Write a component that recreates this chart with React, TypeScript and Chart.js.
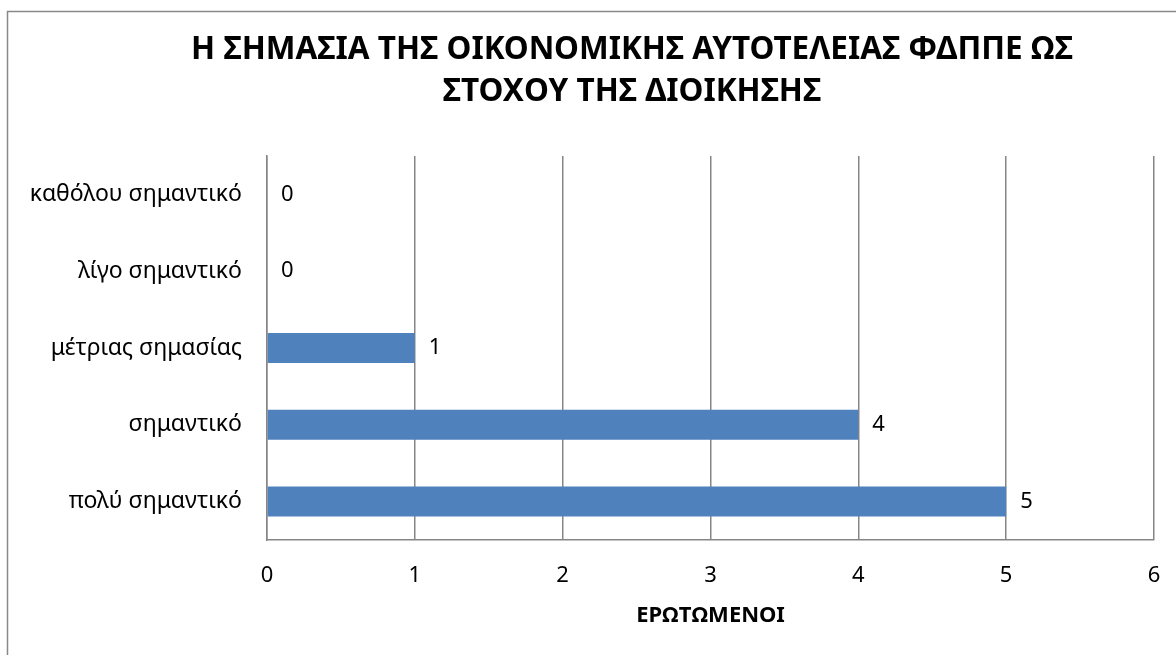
import React, { useEffect, useRef } from "react";
import { Chart, registerables } from "chart.js";

Chart.register(...registerables);

const categories = [
  "καθόλου σημαντικό",
  "λίγο σημαντικό",
  "μέτριας σημασίας",
  "σημαντικό",
  "πολύ σημαντικό",
];
const respondents = [0, 0, 1, 4, 5];
const xTicks = [0, 1, 2, 3, 4, 5, 6];
const titleLines = [
  "Η ΣΗΜΑΣΙΑ ΤΗΣ ΟΙΚΟΝΟΜΙΚΗΣ ΑΥΤΟΤΕΛΕΙΑΣ ΦΔΠΠΕ ΩΣ",
  "ΣΤΟΧΟΥ ΤΗΣ ΔΙΟΙΚΗΣΗΣ",
];
const xTitle = "ΕΡΩΤΩΜΕΝΟΙ";

const FONT = "'Noto Sans', 'DejaVu Sans', sans-serif";
const GRID = "#868686";
const CANVAS_W = 1176;
const CANVAS_H = 655;

const valueLabels = {
  id: "valueLabels",
  afterDatasetsDraw(chart: any) {
    const ctx = chart.ctx;
    const meta = chart.getDatasetMeta(0);
    ctx.save();
    ctx.font = `22px ${FONT}`;
    ctx.fillStyle = "#000";
    ctx.textAlign = "left";
    ctx.textBaseline = "middle";
    meta.data.forEach((el: any, i: number) => {
      ctx.fillText(String(respondents[i]), el.x + 14, el.y);
    });
    ctx.restore();
  },
};

// The original chart frame is wider than the window; centre the title on it.
const titleOnFrame = {
  id: "titleOnFrame",
  afterLayout(chart: any) {
    const tb = chart.titleBlock;
    if (tb) {
      tb.left = 0;
      tb.right = 1264;
      tb.width = 1264;
    }
  },
};

const frame = {
  id: "frame",
  afterDraw(chart: any) {
    const ctx = chart.ctx;
    ctx.save();
    ctx.strokeStyle = "#898989";
    ctx.lineWidth = 1.5;
    ctx.beginPath();
    ctx.moveTo(7.5, 700);
    ctx.lineTo(7.5, 11.5);
    ctx.lineTo(CANVAS_W + 10, 11.5);
    ctx.stroke();
    ctx.restore();
  },
};

export default function App() {
  const ref = useRef<HTMLCanvasElement>(null);
  useEffect(() => {
    if (!ref.current) return;
    const chart = new Chart(ref.current, {
      type: "bar",
      data: {
        labels: categories,
        datasets: [
          {
            data: respondents,
            backgroundColor: "#4F81BD",
            borderWidth: 0,
            barPercentage: 0.39,
            categoryPercentage: 1,
          },
        ],
      },
      options: {
        indexAxis: "y",
        responsive: false,
        animation: false,
        layout: { padding: { left: 0, right: CANVAS_W - 1154, top: 0, bottom: 0 } },
        plugins: {
          legend: { display: false },
          tooltip: { enabled: false },
          title: {
            display: true,
            text: titleLines,
            color: "#000",
            font: { family: FONT, size: 31.5, weight: "bold", lineHeight: 42 / 31.5 },
            padding: { top: 29, bottom: 43 },
          },
        },
        scales: {
          x: {
            min: 0,
            max: 6,
            afterFit(scale: any) {
              scale.height = 115;
              scale.paddingRight = 0;
              scale.paddingLeft = 0;
            },
            afterBuildTicks(scale: any) {
              scale.ticks = xTicks.map((v) => ({ value: v }));
            },
            grid: { color: GRID, lineWidth: 1.5, drawTicks: false },
            border: { display: true, color: GRID, width: 1.5 },
            ticks: {
              color: "#000",
              font: { family: FONT, size: 22 },
              padding: 23,
              maxRotation: 0,
            },
            title: {
              display: true,
              text: xTitle,
              color: "#000",
              font: { family: FONT, size: 22, weight: "bold" },
              padding: { top: 0, bottom: 26 },
            },
          },
          y: {
            afterFit(scale: any) {
              scale.width = 267;
            },
            grid: { display: false, drawTicks: false },
            border: { display: true, color: GRID, width: 1.5 },
            ticks: {
              color: "#000",
              font: { family: FONT, size: 23 },
              padding: 25,
            },
          },
        },
      },
      plugins: [valueLabels, titleOnFrame, frame],
    });
    return () => chart.destroy();
  }, []);
  return (
    <div
      style={{
        position: "fixed",
        left: 0,
        top: 0,
        width: 1176,
        height: 655,
        overflow: "hidden",
        background: "#fff",
      }}
    >
      <canvas ref={ref} width={CANVAS_W} height={CANVAS_H} style={{ display: "block" }} />
    </div>
  );
}
